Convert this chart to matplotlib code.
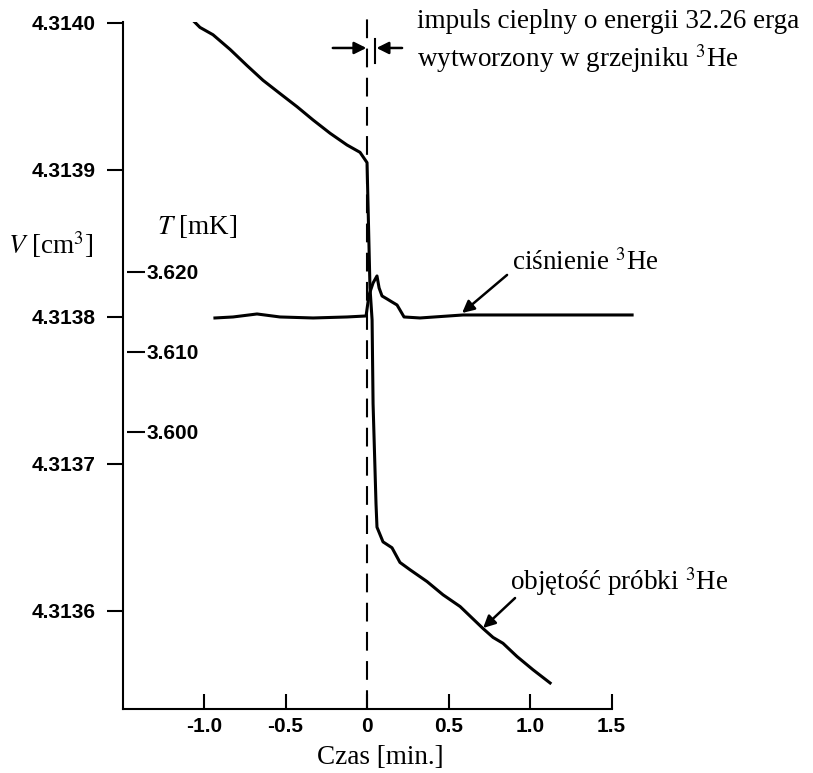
import matplotlib.pyplot as plt

# sample volume V [cm^3] vs time [min]
vol_t = [-1.061, -1.025, -0.945, -0.840, -0.736, -0.638, -0.534, -0.429, -0.331,
         -0.227, -0.123, -0.043, 0.0, 0.018, 0.031, 0.037, 0.055, 0.061, 0.098,
         0.153, 0.202, 0.264, 0.368, 0.466, 0.571, 0.712, 0.773, 0.834, 0.920,
         1.018, 1.123]
vol_v = [4.314001, 4.313997, 4.313992, 4.313982, 4.313971, 4.313961, 4.313952,
         4.313943, 4.313934, 4.313925, 4.313917, 4.313912, 4.313905, 4.313820,
         4.313798, 4.313741, 4.313673, 4.313657, 4.313647, 4.313643, 4.313633,
         4.313628, 4.313620, 4.313611, 4.313603, 4.313588, 4.313582, 4.313578,
         4.313569, 4.313560, 4.313551]

# 3He pressure trace, read on the T [mK] scale
p_t = [-0.933, -0.822, -0.675, -0.534, -0.331, -0.123, -0.006, 0.012, 0.037,
       0.061, 0.074, 0.092, 0.123, 0.153, 0.184, 0.202, 0.227, 0.325, 0.589,
       1.0, 1.411, 1.626]
p_T = [3.61425, 3.614375, 3.61475, 3.614375, 3.61425, 3.614375, 3.6145,
       3.617125, 3.618625, 3.6195, 3.618, 3.617, 3.616625, 3.61625, 3.615875,
       3.61525, 3.614375, 3.61425, 3.614625, 3.614625, 3.614625, 3.614625]

x_ticks = [-1.0, -0.5, 0.0, 0.5, 1.0, 1.5]
x_labels = ['-1.0', '-0.5', '0', '0.5', '1.0', '1.5']
v_ticks = [4.3136, 4.3137, 4.3138, 4.3139, 4.3140]
v_labels = ['4.3136', '4.3137', '4.3138', '4.3139', '4.3140']
t_ticks = [3.600, 3.610, 3.620]
t_labels = ['3.600', '3.610', '3.620']
pulse_t = 0.0

plt.rcParams['mathtext.fontset'] = 'stix'
serif = ['Liberation Serif', 'DejaVu Serif']
sans = ['Liberation Sans', 'DejaVu Sans']
big = 19.5
small = 15

fig = plt.figure(figsize=(8.13, 7.73), dpi=100)
ax = fig.add_axes([0.1513, 0.0828, 0.631, 0.8888])

ax.plot(vol_t, vol_v, color='k', lw=2.2)
ax.set_xlim(-1.497, 1.65)
ax.set_ylim(4.3135333, 4.3140007)

ax.spines['top'].set_visible(False)
ax.spines['right'].set_visible(False)
ax.spines['bottom'].set_bounds(-1.497, 1.5)
for s in ['left', 'bottom']:
    ax.spines[s].set_linewidth(1.5)

ax.set_xticks(x_ticks)
ax.set_xticklabels(x_labels, fontfamily=sans, fontweight='bold', fontsize=small)
ax.set_yticks(v_ticks)
ax.set_yticklabels(v_labels, fontfamily=sans, fontweight='bold', fontsize=small)
ax.tick_params(axis='x', direction='in', length=11, width=1.5, pad=6)
ax.tick_params(axis='y', direction='out', length=11.5, width=1.5, pad=8)

# temperature scale drawn on the left spine
ax2 = ax.twinx()
ax2.set_ylim(3.565375, 3.65125)
for s in ax2.spines.values():
    s.set_visible(False)
ax2.spines['right'].set_position(('axes', 0.008))
ax2.set_yticks(t_ticks)
ax2.set_yticklabels(t_labels, fontfamily=sans, fontweight='bold', fontsize=small)
ax2.tick_params(axis='y', direction='out', length=13, width=1.5, pad=1)
ax2.plot(p_t, p_T, color='k', lw=2.2, clip_on=False)

# heat pulse marker
ax.axvline(pulse_t, ymin=0, ymax=1.013, color='k', lw=1.5, dashes=(9, 5), clip_on=False)
ax.axvline(0.05, ymin=0.94, ymax=0.975, color='k', lw=1.5)
arr = dict(arrowstyle='-|>', color='k', lw=1.8, mutation_scale=18, shrinkA=0, shrinkB=0)
ax.annotate('', xy=(-0.004, 4.313983), xytext=(-0.21, 4.313983), arrowprops=arr)
ax.annotate('', xy=(0.058, 4.313983), xytext=(0.215, 4.313983), arrowprops=arr)
ax.text(0.307, 4.313987, 'impuls cieplny o energii 32.26 erga\nwytworzony w grzejniku $^3$He',
        fontfamily=serif, fontsize=big, ha='left', va='center', linespacing=1.3)

ax.annotate('', xy=(0.583, 4.3138027), xytext=(0.859, 4.3138286), arrowprops=arr)
ax.text(0.89, 4.3138367, 'ciśnienie $^3$He', fontfamily=serif, fontsize=big,
        ha='left', va='center')

ax.annotate('', xy=(0.712, 4.3135884), xytext=(0.908, 4.3136088), arrowprops=arr)
ax.text(0.877, 4.3136197, 'objętość próbki $^3$He', fontfamily=serif, fontsize=big,
        ha='left', va='center')

fig.text(8 / 813, 1 - 245 / 773, '$V$ [cm$^3$]', fontfamily=serif, fontsize=big,
         ha='left', va='center')
fig.text(157 / 813, 1 - 227 / 773, '$T$ [mK]', fontfamily=serif, fontsize=big,
         ha='left', va='center')
fig.text(380 / 813, 1 - 758 / 773, 'Czas [min.]', fontfamily=serif, fontsize=big,
         ha='center', va='center')

fig.savefig('out.png', dpi=100)
